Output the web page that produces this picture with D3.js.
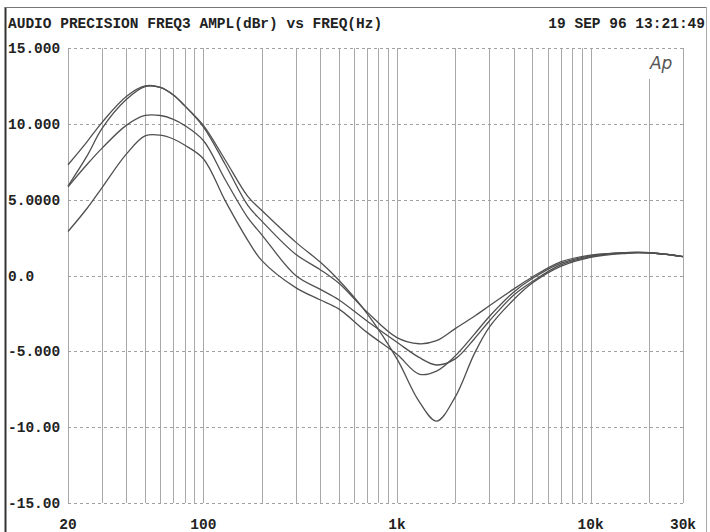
<!DOCTYPE html>
<html>
<head>
<meta charset="utf-8">
<script src="https://cdnjs.cloudflare.com/ajax/libs/d3/7.8.5/d3.min.js"></script>
<style>
  body { margin: 0; background: #fff; }
  svg { display: block; }
</style>
</head>
<body>
<svg id="grafico" width="710" height="532"></svg>
<script>
//frecuencias (Hz) donde se leyeron los valores de las curvas
var frecuencias = [20, 25, 30, 40, 50, 60, 70, 80, 100, 130, 170, 200, 300, 400, 500, 700, 1000, 1300, 1600, 2000, 2500, 3000, 4000, 5000, 7000, 10000, 15000, 20000, 30000];

//amplitud en dBr de cada curva
var curva1 = [7.3, 8.8, 10.1, 11.8, 12.5, 12.4, 11.9, 11.2, 9.9, 7.6, 5.2, 4.3, 2.2, 0.9, -0.3, -2.5, -5.5, -8.3, -9.6, -8.0, -5.2, -3.4, -1.6, -0.5, 0.6, 1.2, 1.45, 1.5, 1.25];
var curva2 = [5.9, 7.85, 9.7, 11.6, 12.45, 12.4, 11.9, 11.2, 9.8, 7.3, 4.6, 3.6, 1.4, 0.4, -0.5, -2.4, -4.1, -4.5, -4.3, -3.5, -2.7, -2.0, -0.9, -0.1, 0.9, 1.35, 1.5, 1.5, 1.25];
var curva3 = [5.85, 7.3, 8.4, 9.9, 10.55, 10.55, 10.3, 9.9, 8.9, 6.3, 3.8, 2.7, 0.0, -0.9, -1.6, -3.0, -4.4, -5.4, -5.9, -5.5, -4.2, -3.0, -1.3, -0.4, 0.7, 1.25, 1.5, 1.5, 1.25];
var curva4 = [2.9, 4.4, 5.8, 8.0, 9.2, 9.25, 9.0, 8.6, 7.7, 4.9, 2.3, 1.0, -0.8, -1.6, -2.2, -3.75, -5.2, -6.5, -6.3, -5.3, -3.9, -2.7, -1.1, -0.2, 0.8, 1.3, 1.5, 1.5, 1.25];

//etiquetas de los ejes
var ticksY = [15, 10, 5, 0, -5, -10, -15];
var etiquetasY = ["15.000", "10.000", "5.0000", "0.0", "-5.000", "-10.00", "-15.00"];
var ticksX = [20, 100, 1000, 10000, 30000];
var etiquetasX = ["20", "100", "1k", "10k", "30k"];

var titulo = "AUDIO PRECISION FREQ3 AMPL(dBr) vs FREQ(Hz)";
var fecha = "19 SEP 96 13:21:49";

var contenedor = d3.select("#grafico");
var fuente = "'Liberation Mono', 'DejaVu Sans Mono', monospace";

//escala logaritmica para la frecuencia, lineal para la amplitud
var escalaX = d3.scaleLog().domain([20, 30000]).range([68, 683]);
var escalaY = d3.scaleLinear().domain([-15, 15]).range([503, 48]);

//marco de la hoja
contenedor.append("line")
    .attr("x1", 5.5).attr("x2", 5.5).attr("y1", 7).attr("y2", 532)
    .attr("stroke", "#333").attr("stroke-width", 2);
contenedor.append("line")
    .attr("x1", 5).attr("x2", 707).attr("y1", 7.5).attr("y2", 7.5)
    .attr("stroke", "#777").attr("stroke-width", 1);
contenedor.append("line")
    .attr("x1", 706.5).attr("x2", 706.5).attr("y1", 7).attr("y2", 532)
    .attr("stroke", "#aaa").attr("stroke-width", 1);

//lineas verticales de la grilla (20, 30 ... 90, 100, 200 ...)
contenedor.append("g")
    .selectAll("line")
    .data(escalaX.ticks())
    .enter()
    .append("line")
    .attr("x1", function (d) { return Math.round(escalaX(d)) + 0.5; })
    .attr("x2", function (d) { return Math.round(escalaX(d)) + 0.5; })
    .attr("y1", escalaY(15))
    .attr("y2", escalaY(-15))
    .attr("stroke", "#a8a8a8")
    .attr("stroke-width", 1);

//lineas horizontales punteadas
contenedor.append("g")
    .selectAll("line")
    .data(ticksY)
    .enter()
    .append("line")
    .attr("x1", escalaX(20))
    .attr("x2", escalaX(30000))
    .attr("y1", function (d) { return Math.round(escalaY(d)) + 0.5; })
    .attr("y2", function (d) { return Math.round(escalaY(d)) + 0.5; })
    .attr("stroke", "#a0a0a0")
    .attr("stroke-dasharray", "3,3")
    .attr("stroke-width", 1);

//logo Ap (tapa la linea de 20k)
contenedor.append("rect")
    .attr("x", escalaX(20000) - 4).attr("y", escalaY(15) + 1)
    .attr("width", 26).attr("height", 30)
    .attr("fill", "#fff");
contenedor.append("text")
    .attr("x", escalaX(20000) + 1).attr("y", 69)
    .style("font-family", "'DejaVu Sans', sans-serif")
    .style("font-style", "italic")
    .style("font-weight", "200")
    .style("font-size", "17px")
    .attr("fill", "#555")
    .text("Ap");

//curvas
var generarLinea = d3.line()
    .x(function (d) { return escalaX(d.f); })
    .y(function (d) { return escalaY(d.v); })
    .curve(d3.curveCatmullRom.alpha(0.5));

[curva1, curva2, curva3, curva4].forEach(function (serie) {
    var puntos = frecuencias.map(function (f, i) { return { f: f, v: serie[i] }; });
    contenedor.append("path")
        .attr("d", generarLinea(puntos))
        .attr("fill", "none")
        .attr("stroke", "#505050")
        .attr("stroke-width", 1.3);
});

//titulo y fecha
contenedor.append("text")
    .attr("x", 8).attr("y", 28)
    .style("font-family", fuente).style("font-weight", "bold").style("font-size", "14.5px")
    .attr("fill", "#222")
    .text(titulo);
contenedor.append("text")
    .attr("x", 705).attr("y", 28)
    .attr("text-anchor", "end")
    .style("font-family", fuente).style("font-weight", "bold").style("font-size", "14.5px")
    .attr("fill", "#222")
    .text(fecha);

//etiquetas del eje Y
contenedor.append("g")
    .selectAll("text")
    .data(ticksY)
    .enter()
    .append("text")
    .attr("x", 8)
    .attr("y", function (d) { return escalaY(d) + 5; })
    .style("font-family", fuente).style("font-weight", "bold").style("font-size", "14.5px")
    .attr("fill", "#222")
    .text(function (d, i) { return etiquetasY[i]; });

//etiquetas del eje X
contenedor.append("g")
    .selectAll("text")
    .data(ticksX)
    .enter()
    .append("text")
    .attr("x", function (d) { return escalaX(d); })
    .attr("y", 529)
    .attr("text-anchor", "middle")
    .style("font-family", fuente).style("font-weight", "bold").style("font-size", "14.5px")
    .attr("fill", "#222")
    .text(function (d, i) { return etiquetasX[i]; });
</script>
</body>
</html>
